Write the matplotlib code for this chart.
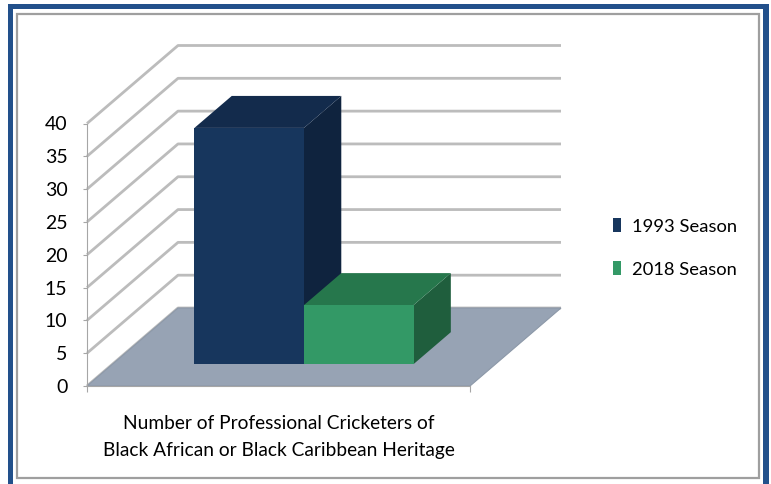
import matplotlib
matplotlib.use("Agg")
import matplotlib.pyplot as plt
from matplotlib.patches import Polygon, Rectangle, Patch
from matplotlib import font_manager

# ---------------- data ----------------
categories = ["Number of Professional Cricketers of\nBlack African or Black Caribbean Heritage"]
series_names = ["1993 Season", "2018 Season"]
values_1993 = [36]
values_2018 = [9]
yticks = [0, 5, 10, 15, 20, 25, 30, 35, 40]

# ---------------- style ----------------
names = {f.name for f in font_manager.fontManager.ttflist}
font = "Liberation Sans Narrow" if "Liberation Sans Narrow" in names else "Lato"
plt.rcParams["font.family"] = [font, "DejaVu Sans"]

front_cols = ["#17365d", "#339966"]
top_cols = ["#132b4c", "#26774c"]
side_cols = ["#0f233e", "#1f5e3d"]
floor_col = "#97a3b4"
grid_col = "#bcbcbc"
axis_col = "#a6a6a6"

W, H = 771, 484
fig = plt.figure(figsize=(W / 100, H / 100), dpi=100)
fig.patch.set_facecolor("white")

# plot area: floor front spans category width 0..1, value 0..40
x0_px, x1_px = 87, 470
y0_px, y40_px = 386, 123.5
ax = fig.add_axes([x0_px / W, (H - y0_px) / H, (x1_px - x0_px) / W, (y0_px - y40_px) / H])
ax.set_xlim(0, 1)
ax.set_ylim(0, 40)
ax.patch.set_visible(False)

px_per_x = (x1_px - x0_px)
px_per_v = (y0_px - y40_px) / 40.0
ddx = 91 / px_per_x            # depth offset in category units
ddy = 78 / px_per_v            # depth offset in value units

# gridlines (left wall + back wall)
for v in yticks:
    ax.plot([0, ddx, 1 + ddx], [v, v + ddy, v + ddy], color=grid_col, lw=2.0,
            clip_on=False, zorder=1, solid_capstyle="butt")

# floor
floor = Polygon([(0, 0), (1, 0), (1 + ddx, ddy), (ddx, ddy)], closed=True,
                facecolor=floor_col, edgecolor="#8c98a8", lw=0.8, clip_on=False, zorder=2)
ax.add_patch(floor)

# bars
bar_w = 0.286
group_start = (1 - 2 * bar_w) / 2
f_front = 0.28
f_back = 0.69
all_vals = [values_1993, values_2018]
for i, vals in enumerate(all_vals):
    for c, v in enumerate(vals):
        xl = c + group_start + i * bar_w
        xr = xl + bar_w
        fx, fy = f_front * ddx, f_front * ddy
        bx, by = f_back * ddx, f_back * ddy
        side = Polygon([(xr + fx, fy), (xr + bx, by), (xr + bx, by + v), (xr + fx, fy + v)],
                       closed=True, facecolor=side_cols[i], edgecolor="none", clip_on=False, zorder=3 + i)
        top = Polygon([(xl + fx, fy + v), (xr + fx, fy + v), (xr + bx, by + v), (xl + bx, by + v)],
                      closed=True, facecolor=top_cols[i], edgecolor="none", clip_on=False, zorder=3 + i)
        front = Polygon([(xl + fx, fy), (xr + fx, fy), (xr + fx, fy + v), (xl + fx, fy + v)],
                        closed=True, facecolor=front_cols[i], edgecolor="none", clip_on=False, zorder=3 + i)
        for p in (side, top, front):
            ax.add_patch(p)

# axes
for s in ("top", "right"):
    ax.spines[s].set_visible(False)
ax.spines["left"].set_color(axis_col)
ax.spines["left"].set_bounds(0, 40)
ax.spines["bottom"].set_color(axis_col)
ax.spines["left"].set_zorder(5)
ax.spines["bottom"].set_zorder(5)
ax.set_yticks(yticks)
ax.set_yticklabels([str(t) for t in yticks])
ax.tick_params(axis="y", direction="out", length=3, color=axis_col, labelsize=14, pad=11)
ax.set_xticks([0, 1])
ax.set_xticklabels(["", ""])
ax.tick_params(axis="x", which="major", direction="out", length=4.5, color=axis_col)
ax.set_xticks([0.5], labels=categories, minor=True)
ax.tick_params(axis="x", which="minor", length=0, labelsize=13.8, pad=21)
for lab in ax.get_xticklabels(minor=True):
    lab.set_linespacing(1.68)

# legend
handles = [Patch(facecolor=front_cols[i], edgecolor="none") for i in range(2)]
fig.legend(handles, series_names, loc="center left", bbox_to_anchor=(598 / W, 1 - 248 / H),
           frameon=False, fontsize=13.2, handlelength=0.45, handleheight=0.8,
           handletextpad=0.62, labelspacing=1.45, borderpad=0.3)

# frame
blue = "#22508b"
fig.patches.append(Rectangle((8 / W, 1 - 9 / H), (769 - 8) / W, 5 / H, transform=fig.transFigure,
                             facecolor=blue, edgecolor="none"))
fig.patches.append(Rectangle((8 / W, 0), 5 / W, 1 - 4 / H, transform=fig.transFigure,
                             facecolor=blue, edgecolor="none"))
fig.patches.append(Rectangle((763 / W, 0), 6 / W, 1 - 4 / H, transform=fig.transFigure,
                             facecolor=blue, edgecolor="none"))
fig.patches.append(Rectangle((17 / W, 1 - 478 / H), (759 - 17) / W, (478 - 14) / H,
                             transform=fig.transFigure, facecolor="none",
                             edgecolor="#9f9f9f", lw=1.6))

fig.savefig("out.png", dpi=100, facecolor="white")
